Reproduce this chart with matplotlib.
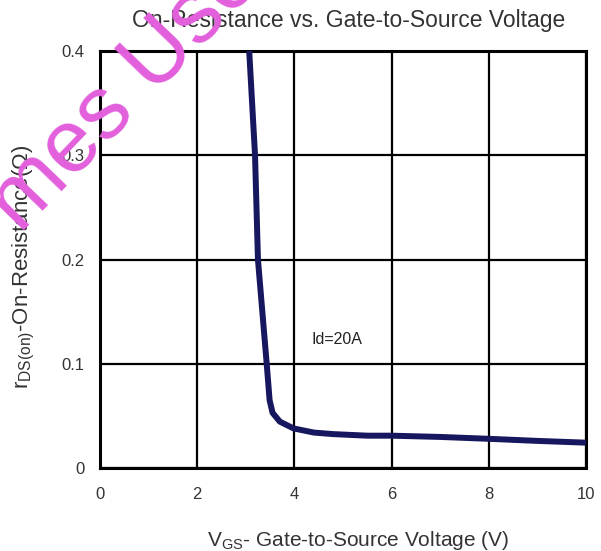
import numpy as np
import matplotlib
matplotlib.use('Agg')
import matplotlib.pyplot as plt

plt.rcParams.update({
    'font.family': ['Liberation Sans', 'DejaVu Sans'],
    'mathtext.fontset': 'custom',
    'mathtext.rm': 'Liberation Sans',
    'mathtext.it': 'Liberation Sans:italic',
    'mathtext.bf': 'Liberation Sans:bold',
})

# curve (Id = 20A)
vgs = [3.07, 3.19, 3.25, 3.34, 3.43, 3.49, 3.55, 3.70, 3.98, 4.40, 4.80,
       5.50, 6.00, 7.00, 8.00, 9.00, 10.0]
rds = [0.400, 0.300, 0.200, 0.150, 0.100, 0.065, 0.053, 0.0445, 0.038,
       0.034, 0.0325, 0.031, 0.031, 0.0298, 0.028, 0.026, 0.0243]

xticks = [0, 2, 4, 6, 8, 10]
yticks = [0, 0.1, 0.2, 0.3, 0.4]
yticklabels = ['0', '0.1', '0.2', '0.3', '0.4']

fig = plt.figure(figsize=(6.01, 5.51), dpi=100)
ax = fig.add_axes([100/601, 83/551, 486/601, 417/551])

ax.plot(vgs, rds, color='#16175e', linewidth=4.3, solid_capstyle='butt', zorder=3)

ax.set_xlim(0, 10)
ax.set_ylim(0, 0.4)
ax.set_xticks(xticks)
ax.set_yticks(yticks)
ax.set_yticklabels(yticklabels)
ax.tick_params(length=0, labelsize=12, labelcolor='#333333')
ax.tick_params(axis='x', pad=14)
ax.tick_params(axis='y', pad=11)
ax.grid(True, color='black', linewidth=1.6)
for sp in ax.spines.values():
    sp.set_linewidth(2.2)
    sp.set_color('black')

ax.text(4.36, 0.123, 'Id=20A', fontsize=11.5, color='#222222', va='center')

fig.text(349/601, 1 - 21/551, 'On-Resistance vs. Gate-to-Source Voltage',
         ha='center', va='center', fontsize=16.5, color='#333333')
fig.text(358/601, 1 - 540/551,
         r'V$_{\mathrm{GS}}$- Gate-to-Source Voltage (V)',
         ha='center', va='center', fontsize=15, color='#333333')
fig.text(24/601, 1 - 267/551,
         r'r$_{\mathrm{DS(on)}}$-On-Resistance($\Omega$)',
         ha='center', va='center', rotation=90, fontsize=16, color='#333333')

# watermark
fig.text(20/601, 1 - 234/551, 'mes Use', ha='left', va='baseline',
         rotation=46, rotation_mode='anchor', fontsize=64,
         color='#e35fdc', zorder=10)

fig.savefig('out.png', dpi=100)
